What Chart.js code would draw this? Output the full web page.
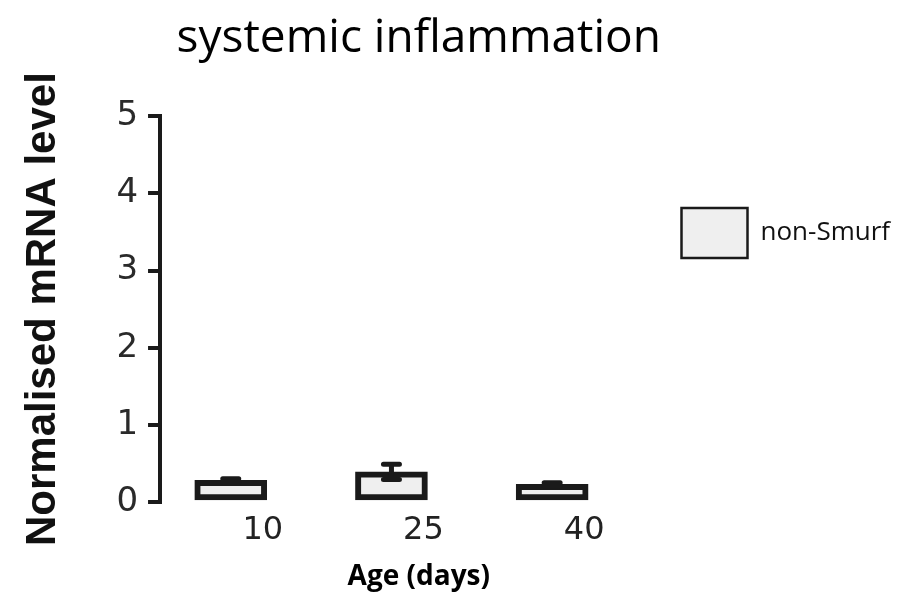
<!DOCTYPE html>
<html>
<head>
<meta charset="utf-8">
<script src="https://cdn.jsdelivr.net/npm/chart.js@4.4.1/dist/chart.umd.min.js"></script>
<style>
    html, body { margin: 0; padding: 0; background: #fff; }
    #wrap { width: 918px; height: 596px; }
</style>
</head>
<body>
<div id="wrap"><canvas id="mrnaChart" width="918" height="596"></canvas></div>
<script>
// Data
const ages = [10, 25, 40];
const nonSmurf = [0.28, 0.39, 0.23];
const nonSmurfErr = [0.02, 0.1, 0.02];
const yTicks = [0, 1, 2, 3, 4, 5];

// Error bars on top of each bar
const errorBars = {
    id: 'errorBars',
    afterDatasetsDraw(chart) {
        const ctx = chart.ctx;
        const y = chart.scales.y;
        const meta = chart.getDatasetMeta(0);
        ctx.save();
        ctx.strokeStyle = '#1a1a1a';
        ctx.lineWidth = 5;
        ctx.lineCap = 'round';
        meta.data.forEach((bar, i) => {
            const top = y.getPixelForValue(nonSmurf[i] + nonSmurfErr[i]);
            const bot = y.getPixelForValue(nonSmurf[i] - nonSmurfErr[i]);
            ctx.beginPath();
            ctx.moveTo(bar.x, top);
            ctx.lineTo(bar.x, bot);
            ctx.moveTo(bar.x - 8, top);
            ctx.lineTo(bar.x + 8, top);
            ctx.moveTo(bar.x - 8, bot);
            ctx.lineTo(bar.x + 8, bot);
            ctx.stroke();
        });
        ctx.restore();
    }
};

// Move the legend down next to the upper part of the plot
const legendShift = {
    id: 'legendShift',
    afterLayout(chart) {
        const lg = chart.legend;
        if (!lg) return;
        const dy = 204;
        lg.top += dy;
        lg.bottom += dy;
    }
};

new Chart(document.getElementById('mrnaChart'), {
    type: 'bar',
    data: {
        datasets: [{
            label: 'non-Smurf',
            data: ages.map((a, i) => ({ x: a, y: nonSmurf[i] })),
            backgroundColor: '#efefef',
            borderColor: '#1a1a1a',
            borderWidth: 6,
            borderSkipped: false,
            barThickness: 72
        }]
    },
    options: {
        responsive: false,
        animation: false,
        layout: {
            padding: { left: 10, right: 18, top: 0, bottom: 2 }
        },
        plugins: {
            title: {
                display: true,
                fullSize: false,
                text: 'systemic inflammation',
                color: '#000',
                font: { family: 'Open Sans', size: 46, weight: 'normal' },
                padding: { top: 11, bottom: 50 }
            },
            legend: {
                position: 'right',
                align: 'start',
                labels: {
                    boxWidth: 66,
                    boxHeight: 50,
                    padding: 4,
                    color: '#111',
                    font: { family: 'Open Sans', size: 26 },
                    generateLabels(chart) {
                        return Chart.defaults.plugins.legend.labels.generateLabels(chart).map(item => {
                            item.lineWidth = 2.5;
                            return item;
                        });
                    }
                }
            },
            tooltip: { enabled: false }
        },
        scales: {
            x: {
                type: 'linear',
                offset: false,
                min: 3.4,
                max: 51.7,
                afterBuildTicks(scale) {
                    scale.ticks = ages.map(v => ({ value: v }));
                },
                grid: { display: false, drawTicks: false, offset: false },
                border: { display: false },
                ticks: {
                    color: '#222',
                    font: { family: 'DejaVu Sans', size: 32 },
                    padding: 9,
                    labelOffset: 32,
                    maxRotation: 0
                },
                title: {
                    display: true,
                    text: 'Age (days)',
                    color: '#000',
                    font: { family: 'Open Sans', size: 28, weight: 'bold' },
                    padding: { top: 2, bottom: 0 }
                }
            },
            y: {
                min: 0,
                max: 5,
                afterBuildTicks(scale) {
                    scale.ticks = yTicks.map(v => ({ value: v }));
                },
                grid: {
                    drawOnChartArea: false,
                    drawTicks: true,
                    tickLength: 12,
                    color: '#1a1a1a',
                    lineWidth: 4
                },
                border: { display: true, color: '#1a1a1a', width: 4 },
                ticks: {
                    color: '#2a2a2a',
                    font: { family: 'DejaVu Sans', size: 34 },
                    padding: 10
                },
                title: {
                    display: true,
                    text: 'Normalised mRNA level',
                    color: '#111',
                    font: { family: 'Liberation Sans', size: 42, weight: 'bold' },
                    padding: { top: 8, bottom: 38 }
                }
            }
        }
    },
    plugins: [errorBars, legendShift]
});
</script>
</body>
</html>
